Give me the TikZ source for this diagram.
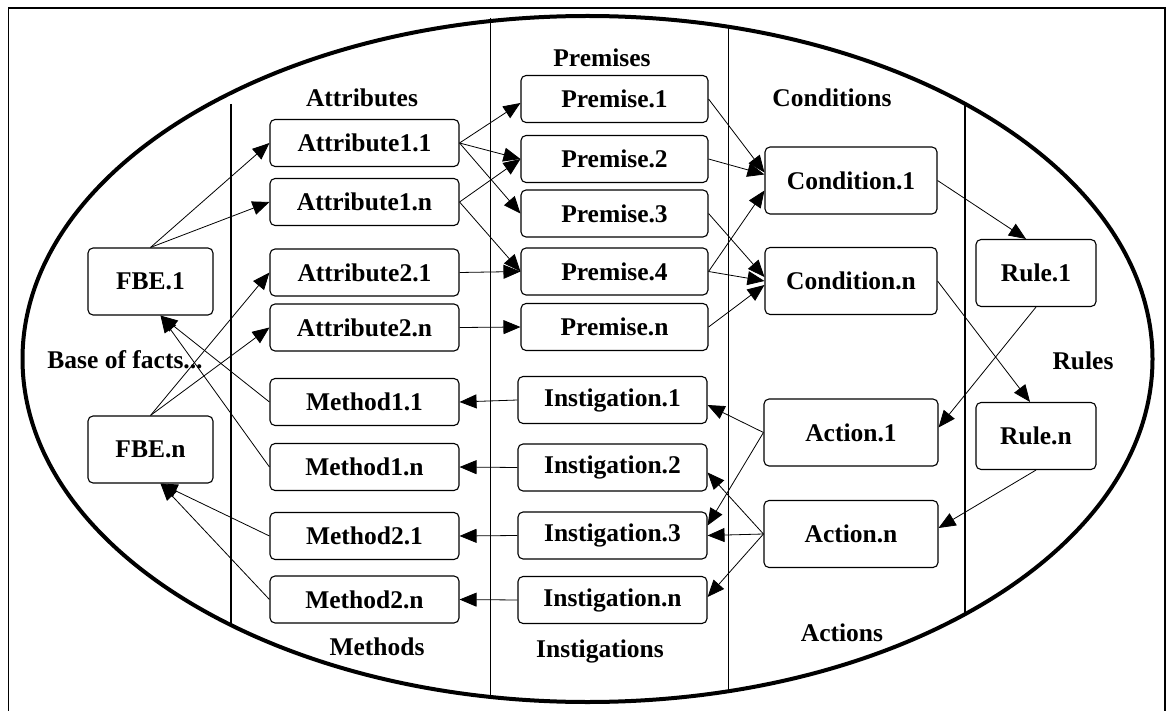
\documentclass[tikz,border=0pt]{standalone}
\usepackage{fontspec}
\setmainfont{Liberation Serif}
\usetikzlibrary{arrows.meta}
\begin{document}
\begin{tikzpicture}[x=1pt,y=-1pt,
  every node/.style={font=\fontsize{25.5}{30}\selectfont\bfseries, inner sep=0pt},
  box/.style={draw, rounded corners=5pt, line width=1.1pt, minimum height=47pt, minimum width=189pt},
  tallbox/.style={box, minimum height=67pt},
  link/.style={line width=0.8pt, -{Triangle[length=17pt,width=14pt]}},
  title/.style={}
]
\useasboundingbox (0,0) rectangle (1167,711);

% outer frame (open at the bottom)
\draw[line width=1.2pt] (8.5,711) -- (8.5,8) -- (1165,8) -- (1165,711);

% the big ellipse
\draw[line width=4pt] (587.5,359) ellipse [x radius=565pt, y radius=343pt];

% column separators
\draw[line width=1.1pt] (231,104) -- (231,626);
\draw[line width=1.1pt] (490.5,18) -- (490.5,697);
\draw[line width=1.1pt] (728.5,27) -- (728.5,691);
\draw[line width=1.1pt] (965,104) -- (965,615);

% column titles
\node[title] (tattr) at (362,98) {Attributes};
\node[title] (tprem) at (602,58) {Premises};
\node[title] (tcond) at (832,98) {Conditions};
\node[title] (trule) at (1083,361) {Rules};
\node[title] (tmeth) at (377,647) {Methods};
\node[title] (tinst) at (600,651) {Instigations};
\node[title] (tact)  at (842,633) {Actions};
\node[title] (tbase) at (125,360) {Base of facts...};

% base of facts
\node[tallbox, minimum width=125pt] (fbe1) at (150.5,281.5) {FBE.1};
\node[tallbox, minimum width=125pt] (fben) at (150.5,449.5) {FBE.n};

% attributes and methods
\node[box] (attr11) at (364.5,143) {Attribute1.1};
\node[box] (attr1n) at (364.5,202) {Attribute1.n};
\node[box] (attr21) at (364.5,272.5) {Attribute2.1};
\node[box] (attr2n) at (364.5,327.5) {Attribute2.n};
\node[box] (meth11) at (364.5,402) {Method1.1};
\node[box] (meth1n) at (364.5,467) {Method1.n};
\node[box] (meth21) at (364.5,536) {Method2.1};
\node[box] (meth2n) at (364.5,599.5) {Method2.n};

% premises and instigations
\node[box, minimum width=187pt] (prem1) at (614.5,99) {Premise.1};
\node[box, minimum width=187pt] (prem2) at (614.5,159) {Premise.2};
\node[box, minimum width=187pt] (prem3) at (614.5,213.5) {Premise.3};
\node[box, minimum width=187pt] (prem4) at (614.5,271.5) {Premise.4};
\node[box, minimum width=187pt] (premn) at (614.5,327) {Premise.n};
\node[box] (inst1) at (612.5,400) {Instigation.1};
\node[box] (inst2) at (612.5,467.5) {Instigation.2};
\node[box] (inst3) at (612.5,535.5) {Instigation.3};
\node[box] (instn) at (612.5,600) {Instigation.n};

% conditions and actions
\node[tallbox, minimum width=172pt] (cond1) at (851,180.5) {Condition.1};
\node[tallbox, minimum width=172pt] (condn) at (851,281) {Condition.n};
\node[tallbox, minimum width=174pt] (act1) at (851,432.5) {Action.1};
\node[tallbox, minimum width=174pt] (actn) at (851,534) {Action.n};

% rules
\node[tallbox, minimum width=120pt] (rule1) at (1036,273) {Rule.1};
\node[tallbox, minimum width=120pt] (rulen) at (1036,436) {Rule.n};

% facts -> attributes
\draw[link] (fbe1.north) -- (attr11.west);
\draw[link] (fbe1.north) -- (attr1n.west);
\draw[link] (fben.north) -- (attr21.west);
\draw[link] (fben.north) -- (attr2n.west);

% methods -> facts
\draw[link] (meth11.west) -- ([xshift=10pt]fbe1.south);
\draw[link] (meth1n.west) -- ([xshift=10pt]fbe1.south);
\draw[link] (meth21.west) -- ([xshift=10pt]fben.south);
\draw[link] (meth2n.west) -- ([xshift=10pt]fben.south);

% attributes -> premises
\draw[link] (attr11.east) -- ([yshift=-4pt]prem1.west);
\draw[link] (attr11.east) -- (prem2.west);
\draw[link] (attr11.east) -- (prem3.west);
\draw[link] (attr1n.east) -- (prem2.west);
\draw[link] (attr1n.east) -- (prem4.west);
\draw[link] (attr21.east) -- (prem4.west);
\draw[link] (attr2n.east) -- (premn.west);

% premises -> conditions
\draw[link] (prem1.east) -- ([yshift=8pt]cond1.west);
\draw[link] (prem2.east) -- ([yshift=6pt]cond1.west);
\draw[link] (prem4.east) -- ([yshift=-10pt]cond1.west);
\draw[link] (prem3.east) -- ([yshift=4pt]condn.west);
\draw[link] (prem4.east) -- (condn.west);
\draw[link] (premn.east) -- ([yshift=-4pt]condn.west);

% conditions -> rules -> actions
\draw[link] (cond1.east) -- ([xshift=-10pt]rule1.north);
\draw[link] (condn.east) -- ([xshift=-6pt]rulen.north);
\draw[link] (rule1.south) -- ([yshift=5pt]act1.east);
\draw[link] (rulen.south) -- ([yshift=6pt]actn.east);

% actions -> instigations
\draw[link] (act1.west) -- ([yshift=-5pt]inst1.east);
\draw[link] (act1.west) -- ([yshift=10pt]inst3.east);
\draw[link] (actn.west) -- ([yshift=-5pt]inst2.east);
\draw[link] (actn.west) -- (inst3.east);
\draw[link] (actn.west) -- ([yshift=3pt]instn.east);

% instigations -> methods
\draw[link] (inst1.west) -- (meth11.east);
\draw[link] (inst2.west) -- (meth1n.east);
\draw[link] (inst3.west) -- (meth21.east);
\draw[link] (instn.west) -- (meth2n.east);
\end{tikzpicture}
\end{document}
